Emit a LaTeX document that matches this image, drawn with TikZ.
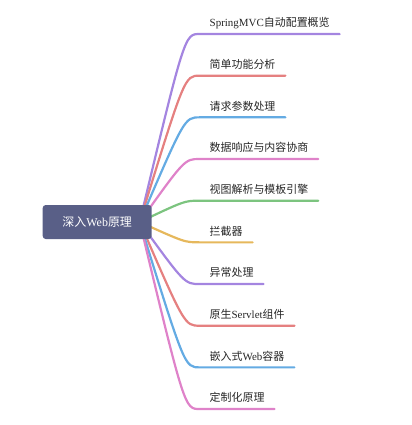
\documentclass[tikz,border=0pt]{standalone}
\usepackage{fontspec}
\setmainfont{Liberation Serif}
\newfontfamily\cjk{Noto Sans CJK SC}
\usetikzlibrary{positioning,calc,backgrounds}

\definecolor{rootblue}{RGB}{89,95,135}
\definecolor{brpurple}{RGB}{164,133,224}
\definecolor{brred}{RGB}{229,128,128}
\definecolor{brblue}{RGB}{100,171,227}
\definecolor{brpink}{RGB}{223,130,201}
\definecolor{brgreen}{RGB}{124,196,127}
\definecolor{bryellow}{RGB}{230,184,92}

\begin{document}
\begin{tikzpicture}
    [x=1bp, y=-1bp,
     root/.style={fill=rootblue, text=white, rounded corners=3bp, outer sep=0pt,
                  minimum width=109bp, minimum height=34bp,
                  font=\fontsize{12}{14}\selectfont},
     topic/.style={text=black!85, outer sep=0pt, inner xsep=10bp, inner ysep=5.3bp,
                   text height=8bp, text depth=2bp,
                   font=\fontsize{11}{13}\selectfont},
     br/.style={line width=2.2bp, line cap=round},
    ]
    \useasboundingbox (0,0) rectangle (412,425);

    \node[root] (root) at (97.2,222) {{\cjk 深入}Web{\cjk 原理}};

    \node[topic, above right=188bp and 48bp of root.east] (autoconf) {SpringMVC{\cjk 自动配置概览}};
    \node[topic, below right=21.07bp and 0bp of autoconf.south west] (basic) {\cjk 简单功能分析};
    \node[topic, below right=21.07bp and 0bp of basic.south west] (params) {\cjk 请求参数处理};
    \node[topic, below right=21.07bp and 0bp of params.south west] (response) {\cjk 数据响应与内容协商};
    \node[topic, below right=21.07bp and 0bp of response.south west] (view) {\cjk 视图解析与模板引擎};
    \node[topic, below right=21.07bp and 0bp of view.south west] (interceptor) {\cjk 拦截器};
    \node[topic, below right=21.07bp and 0bp of interceptor.south west] (exception) {\cjk 异常处理};
    \node[topic, below right=21.07bp and 0bp of exception.south west] (servlet) {{\cjk 原生}Servlet{\cjk 组件}};
    \node[topic, below right=21.07bp and 0bp of servlet.south west] (webserver) {{\cjk 嵌入式}Web{\cjk 容器}};
    \node[topic, below right=21.07bp and 0bp of webserver.south west] (custom) {\cjk 定制化原理};

    \begin{scope}[on background layer]
    \draw [br, brpurple] ([xshift=-12bp]root.east) .. controls ($(autoconf.south west)+(-15bp,0)$) .. (autoconf.south west) -- (autoconf.south east);
    \draw [br, brred] ([xshift=-12bp]root.east) .. controls ($(basic.south west)+(-15bp,0)$) .. (basic.south west) -- (basic.south east);
    \draw [br, brblue] ([xshift=-12bp]root.east) .. controls ($(params.south west)+(-15bp,0)$) .. (params.south west) -- (params.south east);
    \draw [br, brpink] ([xshift=-12bp]root.east) .. controls ($(response.south west)+(-15bp,0)$) .. (response.south west) -- (response.south east);
    \draw [br, brgreen] ([xshift=-12bp]root.east) .. controls ($(view.south west)+(-15bp,0)$) .. (view.south west) -- (view.south east);
    \draw [br, bryellow] ([xshift=-12bp]root.east) .. controls ($(interceptor.south west)+(-15bp,0)$) .. (interceptor.south west) -- (interceptor.south east);
    \draw [br, brpurple] ([xshift=-12bp]root.east) .. controls ($(exception.south west)+(-15bp,0)$) .. (exception.south west) -- (exception.south east);
    \draw [br, brred] ([xshift=-12bp]root.east) .. controls ($(servlet.south west)+(-15bp,0)$) .. (servlet.south west) -- (servlet.south east);
    \draw [br, brblue] ([xshift=-12bp]root.east) .. controls ($(webserver.south west)+(-15bp,0)$) .. (webserver.south west) -- (webserver.south east);
    \draw [br, brpink] ([xshift=-12bp]root.east) .. controls ($(custom.south west)+(-15bp,0)$) .. (custom.south west) -- (custom.south east);
    \end{scope}

\end{tikzpicture}
\end{document}
